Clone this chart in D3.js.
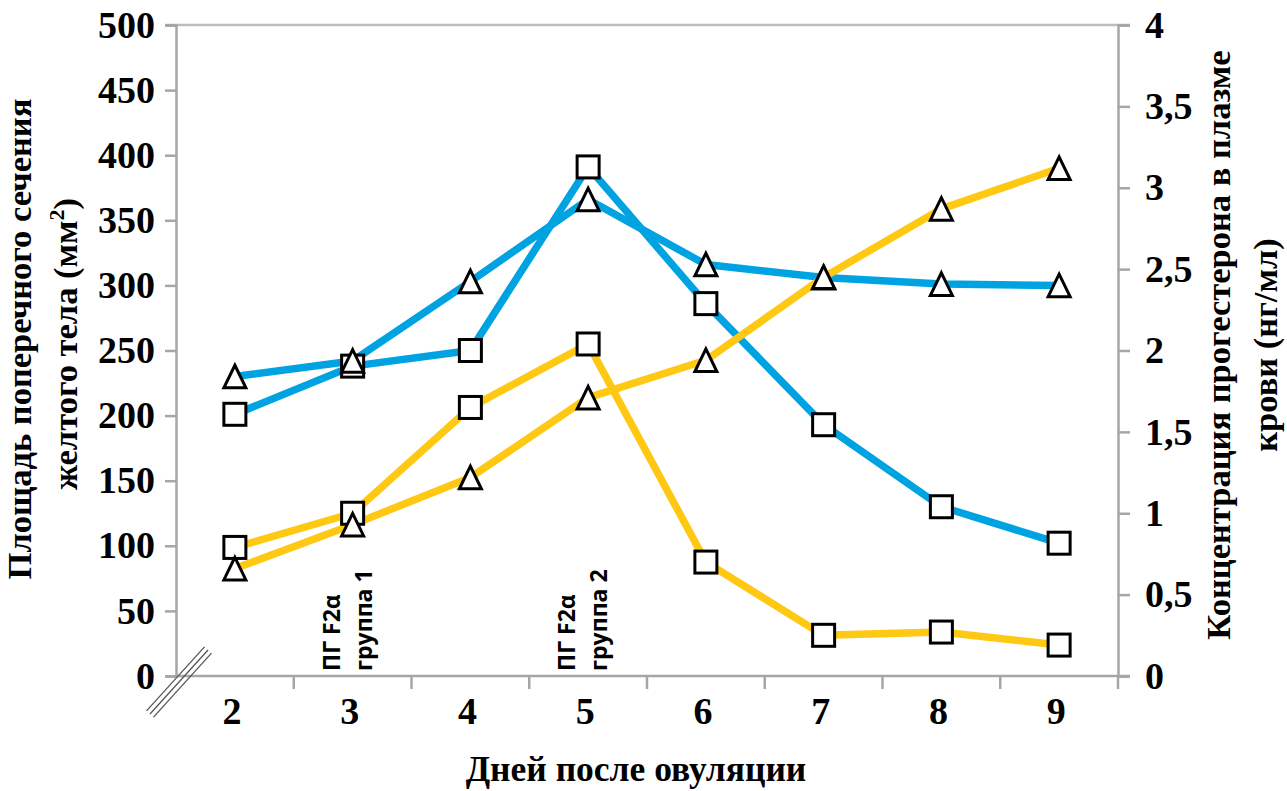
<!DOCTYPE html>
<html lang="ru">
<head>
<meta charset="utf-8">
<script src="https://cdn.jsdelivr.net/npm/d3@7/dist/d3.min.js"></script>
<style>
  html, body { margin: 0; padding: 0; background: #fff; }
  svg { display: block; }
  .serif { font-family: "Liberation Serif", "Times New Roman", "DejaVu Serif", serif; font-weight: bold; fill: #000; }
  .note { font-family: "Open Sans", "Noto Sans", "Liberation Sans", sans-serif; font-weight: bold; fill: #000; }
</style>
</head>
<body>
<svg id="chart" width="1287" height="791"></svg>
<script>
// Days after ovulation
const days = [2, 3, 4, 5, 6, 7, 8, 9];

// Corpus luteum cross-section area, mm² (left axis)
const areaSquares   = [201, 238, 250, 391, 286, 193, 130, 102];
const areaTriangles = [230, 242, 303, 366, 316, 306, 301, 300];

// Plasma progesterone, ng/ml (right axis)
const progSquares   = [0.79, 1.00, 1.65, 2.04, 0.70, 0.25, 0.27, 0.19];
const progTriangles = [0.66, 0.93, 1.22, 1.71, 1.94, 2.45, 2.87, 3.12];

// Axis ticks
const leftTicks  = [0, 50, 100, 150, 200, 250, 300, 350, 400, 450, 500];
const rightTicks = [0, 0.5, 1, 1.5, 2, 2.5, 3, 3.5, 4];
const rightTickLabels = ["0", "0,5", "1", "1,5", "2", "2,5", "3", "3,5", "4"];

// PGF2α injection notes
const injections = [
  { day: 3, lines: ["ПГ F2α", "группа 1"] },
  { day: 5, lines: ["ПГ F2α", "группа 2"] }
];

const BLUE = "#00a3e2";
const YELLOW = "#ffc812";
const AXIS = "#a6a6a6";
const TITLE_SIZE = "34.5px";

const svg = d3.select("#chart");
const plot = { left: 176, right: 1118, top: 25, bottom: 676 };

const x = d3.scaleBand().domain(days).range([plot.left, plot.right]).paddingInner(0).paddingOuter(0);
const cx = d => x(d) + x.bandwidth() / 2;
const yL = d3.scaleLinear().domain([0, 500]).range([plot.bottom, plot.top]);
const yR = d3.scaleLinear().domain([0, 4]).range([plot.bottom, plot.top]);

// top frame line
svg.append("line")
  .attr("x1", plot.left - 11).attr("x2", plot.right + 12)
  .attr("y1", yL(500)).attr("y2", yL(500))
  .attr("stroke", "#bdbdbd").attr("stroke-width", 2.5);

// left axis
const gL = svg.append("g").attr("transform", `translate(${plot.left},0)`)
  .call(d3.axisLeft(yL).tickValues(leftTicks).tickSize(11).tickPadding(10).tickFormat(d3.format("d")));
gL.select(".domain").attr("stroke", AXIS).attr("stroke-width", 2.5);
gL.selectAll(".tick line").attr("stroke", AXIS).attr("stroke-width", 2.5);
gL.selectAll(".tick text").attr("class", "serif").style("font-size", "38px");

// right axis
const gR = svg.append("g").attr("transform", `translate(${plot.right},0)`)
  .call(d3.axisRight(yR).tickValues(rightTicks).tickSize(12).tickPadding(15)
    .tickFormat((d, i) => rightTickLabels[i]));
gR.select(".domain").attr("stroke", AXIS).attr("stroke-width", 2.5);
gR.selectAll(".tick line").attr("stroke", AXIS).attr("stroke-width", 2.5);
gR.selectAll(".tick text").attr("class", "serif").style("font-size", "38px");

// bottom axis: labels at category centres, ticks at category boundaries
const gX = svg.append("g").attr("transform", `translate(0,${plot.bottom})`);
gX.append("line").attr("x1", plot.left).attr("x2", plot.right + 12)
  .attr("stroke", AXIS).attr("stroke-width", 2.5);
const bounds = days.slice(1).map(d => x(d)).concat([plot.right]);
gX.selectAll("line.bt").data(bounds).join("line").attr("class", "bt")
  .attr("x1", d => d).attr("x2", d => d).attr("y1", 0).attr("y2", 13)
  .attr("stroke", AXIS).attr("stroke-width", 2.5);
gX.selectAll("text.xl").data(days).join("text").attr("class", "serif xl")
  .attr("x", d => cx(d) - 3).attr("y", 48)
  .attr("text-anchor", "middle").style("font-size", "38px").text(d => d);

// axis break mark
const brk = svg.append("g").attr("stroke", "#555").attr("stroke-width", 1.3);
[-3.5, 0, 3.5].forEach(o => {
  brk.append("line")
    .attr("x1", 150 + o).attr("y1", 714 + o * 0.9)
    .attr("x2", 208 + o).attr("y2", 650 + o * 0.9);
});

// series lines
const lineL = d3.line().x((d, i) => cx(days[i])).y(d => yL(d));
const lineR = d3.line().x((d, i) => cx(days[i])).y(d => yR(d));
const series = [
  { vals: areaSquares, line: lineL, y: yL, color: BLUE, marker: "square" },
  { vals: areaTriangles, line: lineL, y: yL, color: BLUE, marker: "triangle" },
  { vals: progSquares, line: lineR, y: yR, color: YELLOW, marker: "square" },
  { vals: progTriangles, line: lineR, y: yR, color: YELLOW, marker: "triangle" }
];
series.forEach(s => {
  svg.append("path").datum(s.vals)
    .attr("d", s.line).attr("fill", "none")
    .attr("stroke", s.color).attr("stroke-width", 7.5)
    .attr("stroke-linejoin", "round");
});

// markers: squares first, triangles on top
const sq = 22;
const triPath = "M0,-11.3L11,11.3L-11,11.3Z";
["square", "triangle"].forEach(kind => {
  series.filter(s => s.marker === kind).forEach(s => {
    const g = svg.append("g");
    s.vals.forEach((v, i) => {
      if (kind === "square") {
        g.append("rect")
          .attr("x", cx(days[i]) - sq / 2).attr("y", s.y(v) - sq / 2)
          .attr("width", sq).attr("height", sq)
          .attr("fill", "#fff").attr("stroke", "#000").attr("stroke-width", 3);
      } else {
        g.append("path")
          .attr("transform", `translate(${cx(days[i])},${s.y(v)})`)
          .attr("d", triPath)
          .attr("fill", "#fff").attr("stroke", "#000").attr("stroke-width", 3)
          .attr("stroke-linejoin", "miter");
      }
    });
  });
});

// injection notes
injections.forEach(inj => {
  [-13, 19].forEach((off, k) => {
    svg.append("text").attr("class", "note")
      .attr("transform", `translate(${cx(inj.day) + off},671) rotate(-90)`)
      .style("font-size", "23px")
      .text(inj.lines[k]);
  });
});

// axis titles
const leftTitle = svg.append("g");
leftTitle.append("text").attr("class", "serif")
  .attr("transform", "translate(31,339) rotate(-90)")
  .attr("text-anchor", "middle").style("font-size", TITLE_SIZE)
  .text("Площадь поперечного сечения");
const lt2 = leftTitle.append("text").attr("class", "serif")
  .attr("transform", "translate(77,344) rotate(-90)")
  .attr("text-anchor", "middle").style("font-size", TITLE_SIZE);
lt2.append("tspan").text("желтого тела (мм");
lt2.append("tspan").attr("dy", -13).style("font-size", "22px").text("2");
lt2.append("tspan").attr("dy", 13).text(")");

svg.append("text").attr("class", "serif")
  .attr("transform", "translate(1230,345) rotate(-90)")
  .attr("text-anchor", "middle").style("font-size", TITLE_SIZE)
  .text("Концентрация прогестерона в плазме");
svg.append("text").attr("class", "serif")
  .attr("transform", "translate(1277,345) rotate(-90)")
  .attr("text-anchor", "middle").style("font-size", TITLE_SIZE)
  .text("крови (нг/мл)");

svg.append("text").attr("class", "serif")
  .attr("x", 636).attr("y", 781)
  .attr("text-anchor", "middle").style("font-size", "35.5px")
  .text("Дней после овуляции");
</script>
</body>
</html>
